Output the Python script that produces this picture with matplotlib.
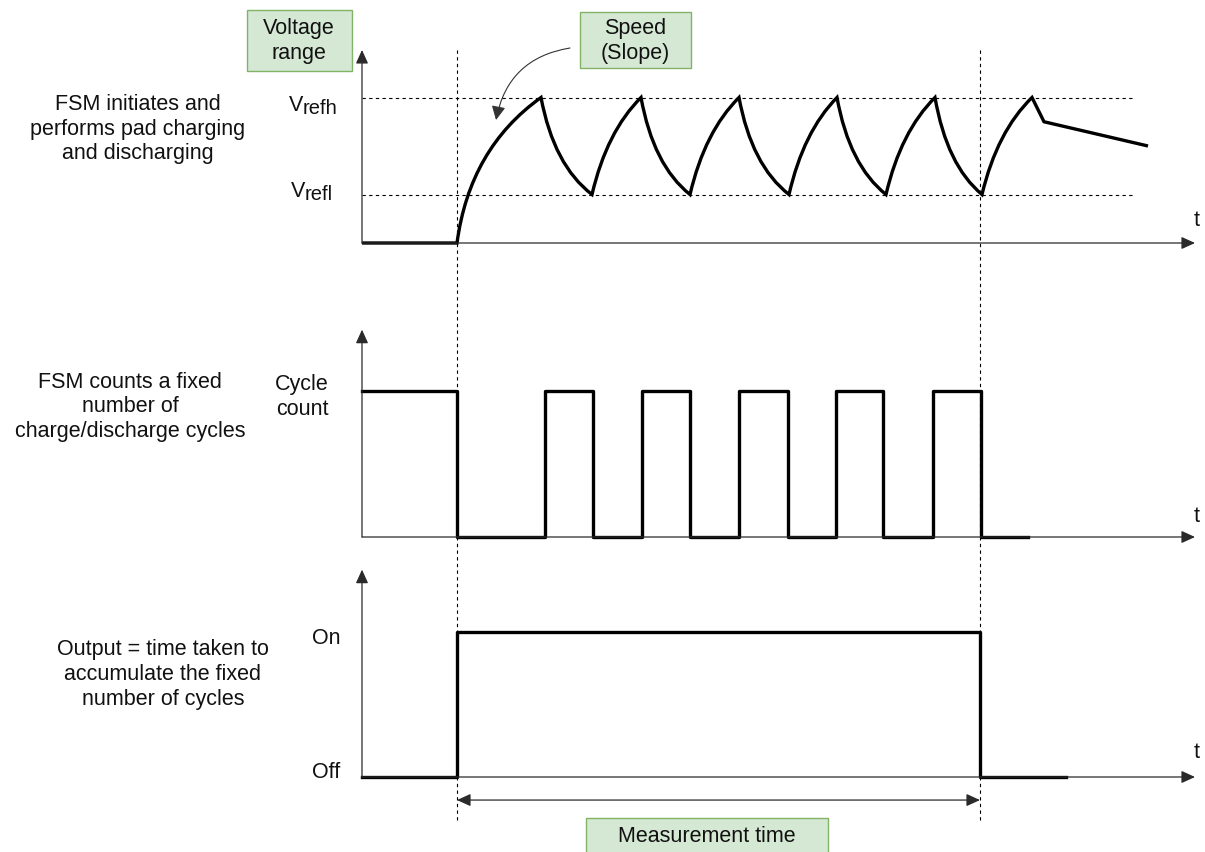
import matplotlib
matplotlib.use("Agg")
import matplotlib.pyplot as plt
from matplotlib.path import Path
from matplotlib.patches import PathPatch, Rectangle, FancyArrowPatch
from matplotlib import transforms

plt.rcParams['font.family'] = ['Liberation Sans', 'DejaVu Sans']

# --- data (time in arbitrary units, t axis starts at 0) ---
T_START, T_STOP = 9.5, 61.8          # measurement window
V_L, V_H = 1.0, 3.0                  # Vrefl / Vrefh

# pad voltage: breakpoints and the shape of each segment between them
v_times = [0, 9.5, 17.9, 23.0, 27.9, 32.8, 37.7, 42.7, 47.5, 52.4, 57.3, 62.0, 67.0, 68.2, 78.6]
v_levels = [0, 0, V_H, V_L, V_H, V_L, V_H, V_L, V_H, V_L, V_H, V_L, V_H, 2.5, 2.0]
v_shape = ['line', 'first', 'fall', 'rise', 'fall', 'rise', 'fall', 'rise',
           'fall', 'rise', 'fall', 'rise', 'line', 'line']

# cycle count pulses
c_times = [0, 9.5, 18.3, 23.1, 28.0, 32.8, 37.7, 42.6, 47.4, 52.1, 57.1, 61.9, 66.6]
c_levels = [1, 0, 1, 0, 1, 0, 1, 0, 1, 0, 1, 0, 0]

# output on/off
o_times = [0, 9.5, 61.8, 70.4]
o_levels = [0, 1, 0, 0]

row_text = ["FSM initiates and\nperforms pad charging\nand discharging",
            "FSM counts a fixed\nnumber of\ncharge/discharge cycles",
            "Output = time taken to\naccumulate the fixed\nnumber of cycles"]

# --- layout ---
W, H = 1205, 852
X0, PX_T = 362, 10      # pixel of t = 0, pixels per time unit
T_END = 83.3
FS = 15.5
INK = '#111111'
AXC = '#2a2a2a'
GREEN_FC, GREEN_EC = '#d5e8d4', '#82b366'
CURVE = {'first': (0.15, 0.65), 'rise': (0.3, 0.65), 'fall': (0.25, 0.7)}
HEAD = ',head_length=0.55,head_width=0.25'

fig = plt.figure(figsize=(W / 100, H / 100), dpi=100)
over = fig.add_axes([0, 0, 1, 1])
over.set_xlim(0, W)
over.set_ylim(H, 0)
over.axis('off')


def panel(top, bottom, zero, unit):
    ax = fig.add_axes([0, 1 - bottom / H, 1, (bottom - top) / H])
    ax.set_xlim(-X0 / PX_T, (W - X0) / PX_T)
    ax.set_ylim(-(bottom - zero) / unit, (zero - top) / unit)
    ax.axis('off')
    return ax


def axis_arrows(ax, y_tip):
    kw = dict(arrowstyle='-|>' + HEAD, color=AXC, lw=0.9, mutation_scale=15,
              shrinkA=0, shrinkB=0)
    ax.annotate('', xy=(0, y_tip), xytext=(0, 0), arrowprops=kw)
    ax.annotate('', xy=(T_END, 0), xytext=(0, 0), arrowprops=kw)


ax1 = panel(0, 290, 243, 48.5)
ax2 = panel(290, 560, 537, 146)
ax3 = panel(560, 852, 777, 145)

axis_arrows(ax1, 3.98)
axis_arrows(ax2, 1.42)
axis_arrows(ax3, 1.43)

# voltage ramp
verts = [(v_times[0], v_levels[0])]
codes = [Path.MOVETO]
for i, shape in enumerate(v_shape):
    t0, t1 = v_times[i], v_times[i + 1]
    y0, y1 = v_levels[i], v_levels[i + 1]
    if shape == 'line':
        verts.append((t1, y1))
        codes.append(Path.LINETO)
    else:
        a, b = CURVE[shape]
        verts += [(t0 + a * (t1 - t0), y0 + b * (y1 - y0)), (t1, y1)]
        codes += [Path.CURVE3, Path.CURVE3]
ax1.add_patch(PathPatch(Path(verts, codes), fill=False, lw=2.4,
                        edgecolor='black', joinstyle='miter', capstyle='butt'))
ax1.hlines([V_H, V_L], 0, 77.3, colors='black', linestyles=(0, (3, 3)), lw=0.8)

ax2.step(c_times, c_levels, where='post', color='black', lw=2.4)
ax3.step(o_times, o_levels, where='post', color='black', lw=2.4)

# measurement time arrow
ax3.annotate('', xy=(T_START, -0.159), xytext=(T_STOP, -0.159),
             arrowprops=dict(arrowstyle='<|-|>' + HEAD, color=AXC, lw=0.9,
                             mutation_scale=15, shrinkA=0, shrinkB=0))

# dashed markers across all rows
blend = transforms.blended_transform_factory(ax1.transData, over.transData)
for t in (T_START, T_STOP):
    over.plot([t, t], [50, 823], transform=blend, color='black',
              ls=(0, (3, 3)), lw=0.8)

# green labels
for (x, y, w, h), txt, cx, cy in [((247, 10, 105, 61), "Voltage\nrange", 299, 41),
                                   ((580, 12, 111, 56), "Speed\n(Slope)", 635, 41),
                                   ((586, 818, 242, 40), "Measurement time", 707, 837)]:
    over.add_patch(Rectangle((x, y), w, h, fc=GREEN_FC, ec=GREEN_EC, lw=1))
    over.text(cx, cy, txt, ha='center', va='center', fontsize=FS, color=INK,
              linespacing=1.25)

over.add_patch(FancyArrowPatch((570, 48), (496, 120), connectionstyle='arc3,rad=0.35',
                               arrowstyle='-|>,head_length=0.6,head_width=0.3',
                               mutation_scale=14, color='#333333',
                               lw=0.8, shrinkA=0, shrinkB=0))

# row descriptions
for txt, cx, cy in zip(row_text, [138, 130, 163], [129, 407, 674]):
    over.text(cx, cy, txt, ha='center', va='center', fontsize=FS, color=INK,
              linespacing=1.25)

# level labels
over.text(289, 111, "V", ha='left', va='baseline', fontsize=FS, color=INK)
over.text(303, 114, "refh", ha='left', va='baseline', fontsize=14.5, color=INK)
over.text(291, 197, "V", ha='left', va='baseline', fontsize=FS, color=INK)
over.text(305, 200, "refl", ha='left', va='baseline', fontsize=14.5, color=INK)
over.text(302, 397, "Cycle\ncount", ha='center', va='center', fontsize=FS, color=INK,
          linespacing=1.25)
over.text(326, 639, "On", ha='center', va='center', fontsize=FS, color=INK)
over.text(326, 772, "Off", ha='center', va='center', fontsize=FS, color=INK)

for y in (220, 517, 753):
    over.text(1197, y, "t", ha='center', va='center', fontsize=FS, color=INK)

fig.savefig("out.png", dpi=100)
